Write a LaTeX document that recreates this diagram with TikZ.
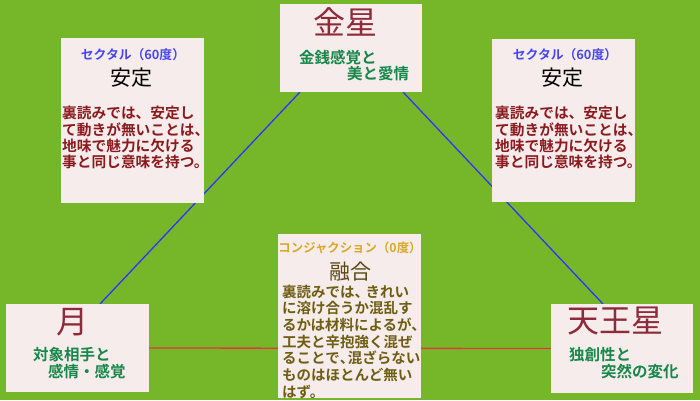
\documentclass[tikz,border=0pt]{standalone}
\usepackage{fontspec}
\setmainfont{Noto Sans CJK JP}[BoldFont={Noto Sans CJK JP Bold}]
\newcommand\tk[1][0.75em]{\makebox[#1][l]{、}}
\definecolor{bgG}{HTML}{76B72A}
\definecolor{boxF}{HTML}{F7ECEC}
\definecolor{ttlC}{HTML}{8E2A3A}
\definecolor{grnC}{HTML}{17874A}
\definecolor{lblB}{HTML}{4747F0}
\definecolor{bodyR}{HTML}{8B1A1E}
\definecolor{lblY}{HTML}{D9A827}
\definecolor{bodyO}{HTML}{6E5E12}
\definecolor{keyO}{HTML}{5B4A15}
\definecolor{lnB}{HTML}{3333FF}
\definecolor{lnR}{HTML}{E03A3A}
\pgfdeclarelayer{back}
\pgfdeclarelayer{wires}
\pgfsetlayers{back,wires,main}
\begin{document}
\begin{tikzpicture}[x=1pt,y=-1pt,
  box/.style={fill=boxF, draw=none, inner sep=0pt, outer sep=0pt, anchor=north west},
  ttl/.style={text=ttlC, font=\fontsize{32}{34}\selectfont, inner sep=0pt},
  grn/.style={text=grnC, font=\fontsize{15.5}{15.5}\selectfont\bfseries, align=left, anchor=west, inner sep=0pt},
  lbl/.style={font=\fontsize{12.8}{14}\selectfont\bfseries, inner sep=0pt},
  keyw/.style={font=\fontsize{21}{22}\selectfont, inner sep=0pt},
  body/.style={font=\fontsize{14.7}{16.1}\selectfont\bfseries, align=left, anchor=west, inner sep=0pt},
  sxt/.style={draw=lnB, line width=1.3pt},
  cnj/.style={draw=lnR, line width=1.3pt}]
\useasboundingbox (0,0) rectangle (700,400);
\begin{pgfonlayer}{back}
\fill[bgG] (0,0) rectangle (700,400);
\end{pgfonlayer}
% boxes
\node[box, minimum width=142pt, minimum height=88pt] (venus) at (280,4) {};
\node[box, minimum width=143pt, minimum height=165pt] (sextL) at (61,38) {};
\node[box, minimum width=143pt, minimum height=163pt] (sextR) at (492,39) {};
\node[box, minimum width=143pt, minimum height=164pt] (conj) at (278,234) {};
\node[box, minimum width=143pt, minimum height=88pt] (moon) at (6,304) {};
\node[box, minimum width=142pt, minimum height=89pt] (uranus) at (551,304) {};
% connectors
\begin{pgfonlayer}{wires}
\draw[sxt] ([xshift=20pt]venus.south west) -- ([xshift=94pt]moon.north west);
\draw[sxt] ([xshift=-19pt]venus.south east) -- ([xshift=52pt]uranus.north west);
\draw[cnj] (moon.east) -- (uranus.west);
\end{pgfonlayer}
% venus
\node[ttl] (venusT) at (345,22) {金星};
\node[grn, font=\fontsize{15.5}{14.5}\selectfont\bfseries] (venusG) at (299,65.4) {金銭感覚と\\\hspace*{48pt}美と愛情};
% moon
\node[ttl] (moonT) at (72,322) {月};
\node[grn, font=\fontsize{15.5}{16.3}\selectfont\bfseries] (moonG) at (33,363) {対象相手と\\\hspace*{15pt}感情・感覚};
% uranus
\node[ttl] (uranusT) at (615,321) {天王星};
\node[grn, font=\fontsize{15.5}{17}\selectfont\bfseries] (uranusG) at (569,363.5) {独創性と\\\hspace*{32pt}突然の変化};
% sextile left
\node[lbl, text=lblB] (sextLL) at (133,55) {セクタル（60度）};
\node[keyw] (sextLK) at (131,78) {安定};
\node[body, text=bodyR] (sextLB) at (62,137.5) {裏読みでは、安定し\\て動きが無いことは、\\地味で魅力に欠ける\\事と同じ意味を持つ。};
% sextile right
\node[lbl, text=lblB] (sextRL) at (565,55) {セクタル（60度）};
\node[keyw] (sextRK) at (562,78) {安定};
\node[body, text=bodyR] (sextRB) at (495,137.5) {裏読みでは、安定し\\て動きが無いことは、\\地味で魅力に欠ける\\事と同じ意味を持つ。};
% conjunction
\node[lbl, text=lblY, font=\fontsize{12.4}{14}\selectfont\bfseries] (conjL) at (350,248) {コンジャクション（0度）};
\node[keyw, text=keyO] (conjK) at (350,272) {融合};
\node[body, text=bodyO, font=\fontsize{14.5}{16.7}\selectfont\bfseries] (conjB) at (282,341.7) {裏読みでは\tk きれい\\に溶け合うか混乱す\\るかは材料によるが、\\工夫と辛抱強く混ぜ\\ることで\tk[0.55em]混ざらない\\ものはほとんど無い\\はず。};
\end{tikzpicture}
\end{document}
